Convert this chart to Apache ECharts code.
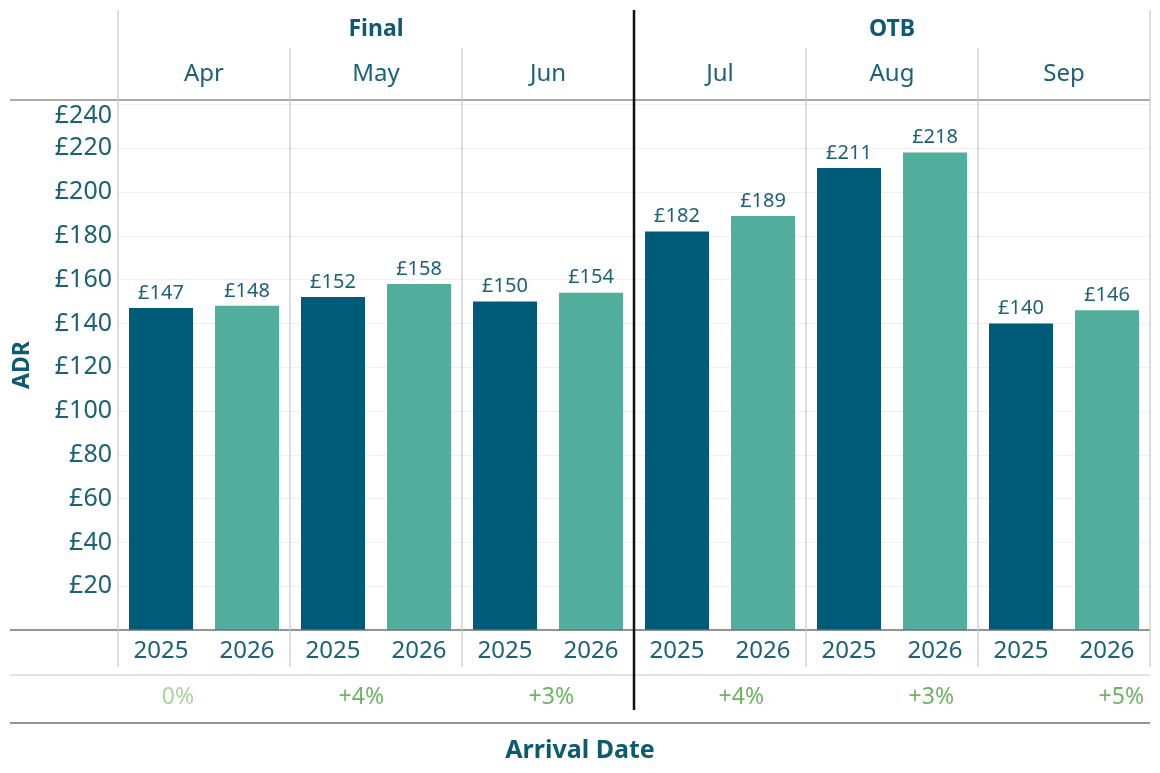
<!DOCTYPE html>
<html><head><meta charset="utf-8">
<script src="https://cdn.jsdelivr.net/npm/echarts@6/dist/echarts.min.js"></script>
<style>html,body{margin:0;padding:0;background:#fff}#c{width:1160px;height:773px}</style>
</head><body><div id="c"></div>
<script>
const months = ['Apr','May','Jun','Jul','Aug','Sep'];
const phases = ['Final','OTB'];
const years = ['2025','2026'];
const adr2025 = [147,152,150,182,211,140];
const adr2026 = [148,158,154,189,218,146];
const pctLabels = ['0%','+4%','+3%','+4%','+3%','+5%'];
const yTicks = [20,40,60,80,100,120,140,160,180,200,220,240];

const FONT = 'Noto Sans';
const TXT = '#1b6178';
const C25 = '#005b78', C26 = '#52ae9c';
const L = 118, R = 1150, T = 100, B = 630, OUTL = 10;
const paneW = (R - L) / months.length;

const yearCats = [];
months.forEach(() => years.forEach(y => yearCats.push(y)));

const chart = echarts.init(document.getElementById('c'));

function hline(y, x1, x2, color, w){ return {type:'line', shape:{x1:x1,y1:y,x2:x2,y2:y}, style:{stroke:color,lineWidth:w||1}, z:10}; }
function vline(x, y1, y2, color, w){ return {type:'line', shape:{x1:x,y1:y1,x2:x,y2:y2}, style:{stroke:color,lineWidth:w||1}, z:10}; }

const graphics = [
  hline(T, OUTL, R, '#8f8f8f', 1.3),
  hline(B, OUTL, R, '#707070', 1.5),
  hline(675, OUTL, R, '#c8c8c8', 1.2),
  hline(723, OUTL, R, '#707070', 1.3),
  vline(L, 10, 667, '#c8c8c8', 1.2),
  vline(R, 10, 667, '#c8c8c8', 1.2)
];
for (let i = 1; i < months.length; i++) {
  if (i === 3) continue;
  graphics.push(vline(L + paneW * i, 48, 667, '#c8c8c8', 1.2));
}
graphics.push(vline(L + paneW * 3, 10, 710, '#111', 2.5));

chart.setOption({
  animation: false,
  textStyle: { fontFamily: FONT },
  grid: [
    { left: L, right: 1160 - R, top: T, bottom: 773 - B },
    { left: OUTL, right: 1160 - R, top: T, bottom: 773 - B }
  ],
  title: {
    text: 'Arrival Date', left: 'center', top: 733,
    textStyle: { fontFamily: FONT, fontSize: 25, fontWeight: 'bold', color: '#0f5a73' }
  },
  xAxis: [
    { type: 'category', gridIndex: 0, data: months, position: 'bottom',
      axisLine: { show: false }, axisTick: { show: false }, axisLabel: { show: false } },
    { type: 'category', gridIndex: 0, data: yearCats, position: 'bottom',
      axisLine: { show: false }, axisTick: { show: false },
      axisLabel: { margin: 9, fontSize: 24, color: TXT, fontFamily: FONT } },
    { type: 'category', gridIndex: 0, data: months, position: 'top',
      axisLine: { show: false }, axisTick: { show: false },
      axisLabel: { margin: 14, fontSize: 24, color: TXT, fontFamily: FONT } },
    { type: 'category', gridIndex: 0, data: phases, position: 'top',
      axisLine: { show: false }, axisTick: { show: false },
      axisLabel: { margin: 59, fontSize: 23, fontWeight: 'bold', color: '#0f5a73', fontFamily: FONT } },
    { type: 'category', gridIndex: 1, data: pctLabels, position: 'bottom',
      axisLine: { show: false }, axisTick: { show: false },
      axisLabel: { margin: 56, fontFamily: FONT,
        formatter: (v) => (v === '0%' ? '{z|' : '{p|') + v + '}',
        rich: {
          z: { width: 178, align: 'right', fontSize: 23, color: '#a8d398', fontFamily: FONT },
          p: { width: 178, align: 'right', fontSize: 23, color: '#6cb562', fontFamily: FONT }
        } } }
  ],
  yAxis: [
    { type: 'value', gridIndex: 0, min: 0, max: 242, interval: 20,
      name: 'ADR', nameLocation: 'middle', nameGap: 84, nameRotate: 90,
      nameTextStyle: { fontFamily: FONT, fontSize: 23, fontWeight: 'bold', color: '#0f5a73' },
      axisLine: { show: false }, axisTick: { show: false },
      splitLine: { lineStyle: { color: '#efefef', width: 1 } },
      axisLabel: { margin: 6, fontSize: 25, color: TXT, fontFamily: FONT,
        formatter: (v) => v === 0 ? '' : (v === yTicks[yTicks.length - 1] ? '{t|£' + v + '}' : '£' + v),
        rich: { t: { padding: [22, 0, 0, 0], fontSize: 25, color: TXT, fontFamily: FONT } } } },
    { type: 'value', gridIndex: 1, show: false }
  ],
  series: [
    { name: years[0], type: 'bar', xAxisIndex: 0, yAxisIndex: 0, data: adr2025,
      barWidth: 64, barGap: '34.4%', itemStyle: { color: C25 },
      label: { show: true, position: 'top', distance: 5, fontSize: 20, color: TXT, fontFamily: FONT,
        formatter: (p) => '£' + p.value } },
    { name: years[1], type: 'bar', xAxisIndex: 0, yAxisIndex: 0, data: adr2026,
      barWidth: 64, itemStyle: { color: C26 },
      label: { show: true, position: 'top', distance: 5, fontSize: 20, color: TXT, fontFamily: FONT,
        formatter: (p) => '£' + p.value } }
  ],
  graphic: graphics
});
</script></body></html>
